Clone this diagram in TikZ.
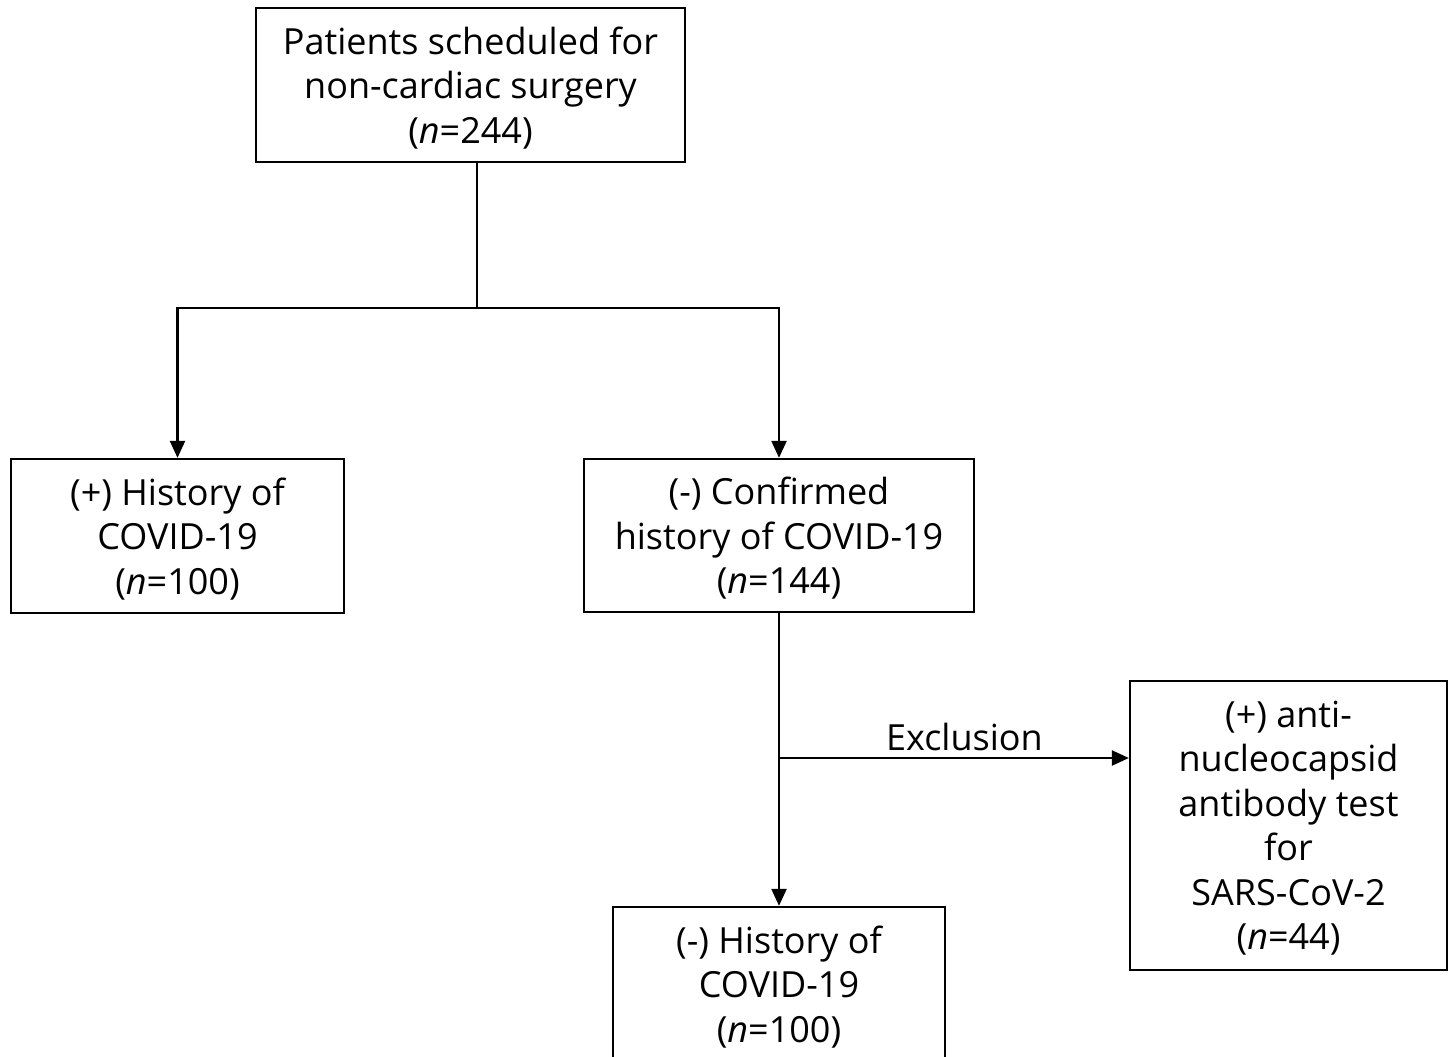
\documentclass[tikz,border=0pt]{standalone}
\usepackage{fontspec}
\setmainfont{Open Sans}
\usepackage{tikz}
\usetikzlibrary{arrows.meta,positioning}

\tikzset{
    flowbox/.style={draw, line width=2.3pt, align=center, inner sep=0pt,
        font=\fontsize{36}{44.5}\selectfont, text depth=0pt},
    flowline/.style={line width=2.3pt},
    flowarrow/.style={line width=2.3pt, -{Triangle[width=15pt,length=17pt]}}
}

\begin{document}
\begin{tikzpicture}[x=1pt, y=-1pt]
    \useasboundingbox (0, 0) rectangle (1451, 1057);
    \node[flowbox, minimum width=429pt, minimum height=154pt] (patients) at (470.5, 85)
        {Patients scheduled for\\non-cardiac surgery\\(\textit{n}=244)};
    \node[flowbox, minimum width=333pt, minimum height=154pt] (poshist) at (177.5, 536)
        {(+) History of\\COVID-19\\(\textit{n}=100)};
    \node[flowbox, minimum width=390pt, minimum height=153pt] (negconf) at (779, 535.5)
        {(-) Confirmed\\history of COVID-19\\(\textit{n}=144)};
    \node[flowbox, minimum width=317pt, minimum height=289pt] (antibody) at (1288.5, 825.5)
        {(+) anti-\\nucleocapsid\\antibody test\\for\\SARS-CoV-2\\(\textit{n}=44)};
    \node[flowbox, minimum width=332pt, minimum height=154pt] (neghist) at (779, 984)
        {(-) History of\\COVID-19\\(\textit{n}=100)};
    \coordinate (split) at (477, 308);
    \coordinate (excl) at (779, 758);
    \draw[flowline] (split |- patients.south) -- (split);
    \draw[flowarrow] (split) -| (poshist.north);
    \draw[flowarrow] (split) -| (negconf.north);
    \draw[flowarrow] (negconf) -- (neghist);
    \draw[flowarrow] (excl) -- (antibody.west |- excl)
        node[pos=0.53, above=3pt, font=\fontsize{36}{44.5}\selectfont] {Exclusion};
\end{tikzpicture}
\end{document}
